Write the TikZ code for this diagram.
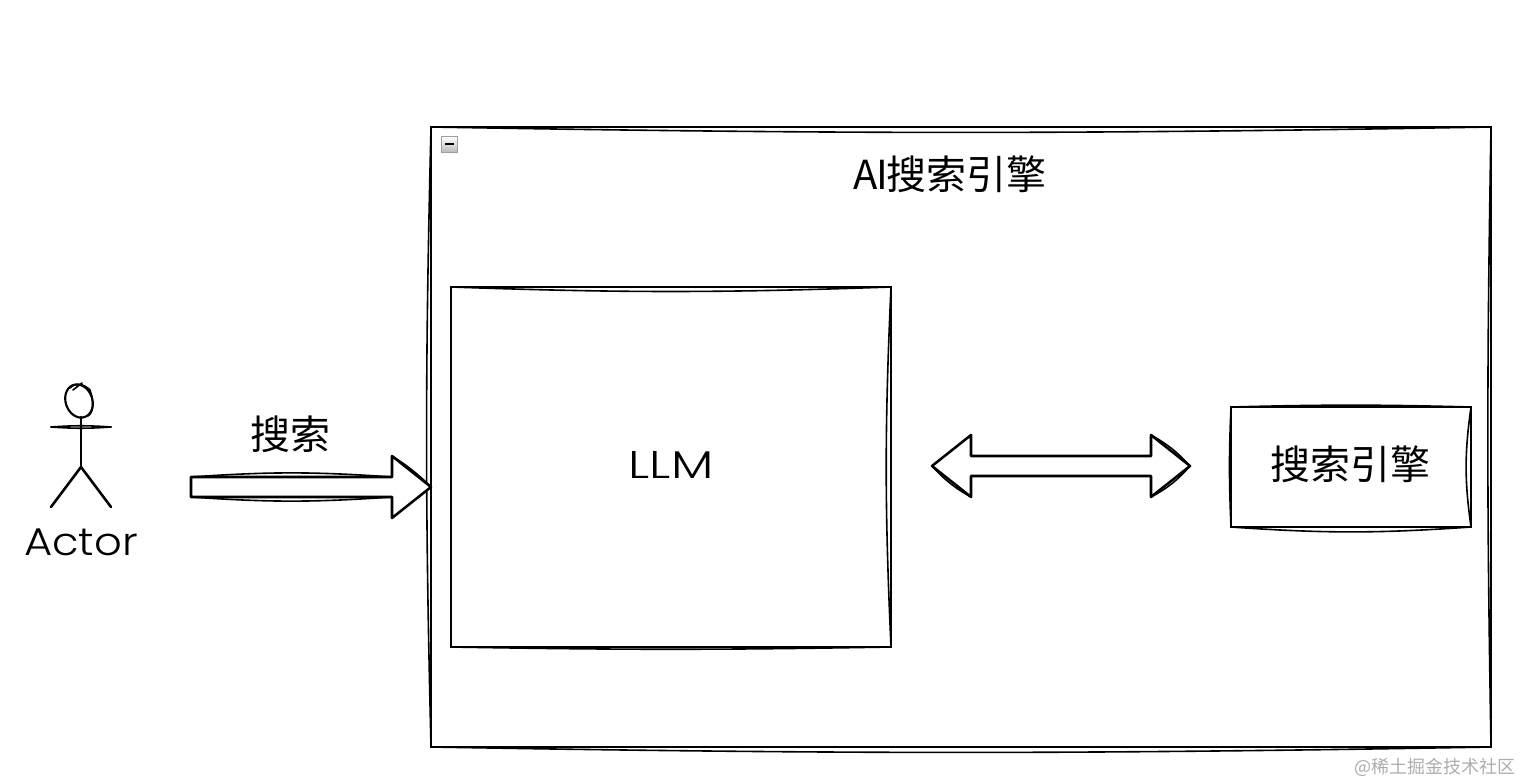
\documentclass[tikz,border=0pt]{standalone}
\usepackage{fontspec}
\newfontfamily\cjk{Noto Sans CJK SC}
\newfontfamily\hand{Poppins Light}
\usetikzlibrary{calc,shapes.geometric}
\definecolor{tgl}{HTML}{9A9AB2}
\tikzset{
  sk/.style={draw=black,line width=1.9pt,line join=round,line cap=round},
  skthin/.style={draw=black,line width=1.2pt,line cap=round},
  boxn/.style={draw=black,line width=1.9pt,fill=white,inner sep=0pt,outer sep=0pt},
  zh/.style={font=\cjk\fontsize{30}{34}\selectfont,inner sep=0pt},
  la/.style={font=\hand\fontsize{29}{34}\selectfont,inner sep=0pt},
  wm/.style={font=\cjk\fontsize{13.5}{16}\selectfont,text=black!32,inner sep=0pt},
  bow/.style={skthin,bend right=#1},
}
\begin{document}
\begin{tikzpicture}[x=0.75pt,y=-0.75pt]
\useasboundingbox (0,0) rectangle (1520,784);
% containers
\node[boxn,minimum width=795pt,minimum height=465pt] (outer) at (961,437) {};
\draw[bow=1.0] (outer.north west) to (outer.north east);
\draw[bow=1.0] (outer.south west) to (outer.south east);
\draw[bow=1.4] (outer.north west) to (outer.south west);
\draw[bow=1.0] (outer.north east) to (outer.south east);
\node[draw=tgl,line width=1.1pt,top color=white,bottom color=black!28,minimum size=12pt,inner sep=0pt] (toggle) at (449.5,144.5) {};
\draw[black,line width=1.5pt] ($(toggle.center)+(-4.5,0)$) -- ($(toggle.center)+(4.5,0)$);
\node[zh] (title) at (950,174) {A\kern-1.5pt I\kern-1.5pt 搜索引擎};
\node[boxn,minimum width=330pt,minimum height=270pt] (llm) at (671,467) {};
\node[la,xscale=1.3] (llmt) at (671,465) {LLM};
\draw[bow=2.0] (llm.north west) to (llm.north east);
\draw[bow=1.0] (llm.south west) to (llm.south east);
\draw[bow=2.6] (llm.north east) to (llm.south east);
\node[boxn,minimum width=180pt,minimum height=90pt] (se) at (1351,467) {};
\node[zh] (set) at (1350,464) {搜索引擎};
\draw[bow=4] (se.south west) to (se.south east);
\draw[bow=1.5] (se.north east) to (se.north west);
\draw[bow=2.5] (se.north west) to (se.south west);
\draw[bow=8] (se.north east) to (se.south east);
% actor
\node[draw=black,line width=1.6pt,ellipse,minimum width=20pt,minimum height=25.5pt,inner sep=0pt,rotate=20] (head) at (79,401) {};
\draw[skthin] (70,388) .. controls (76,382) and (84,384) .. (90,390) .. controls (94,402) and (94,412) .. (88,416);
\draw[skthin] (73,390) -- (82,383);
\coordinate (neck) at (81,417);
\coordinate (hip) at (81,467);
\coordinate (armL) at (51,427);
\coordinate (armR) at (111,427);
\coordinate (legL) at (51,507);
\coordinate (legR) at (111,507);
\draw[sk] (neck) -- (hip);
\draw[skthin] (armL) to[bend right=4] (armR);
\draw[skthin] (armL) to[bend left=4] (armR);
\draw[sk] (legL) -- (hip) -- (legR);
\node[la,xscale=1.12] (actor) at (81,542) {Actor};
% search arrow
\node[zh] (st) at (290,434) {搜索};
\coordinate (a1) at (191,487);
\coordinate (a2) at (outer.west |- a1);
\draw[sk,fill=white] (a1) -- ++(0,-10) -- ($(a2)+(-39,-10)$) -- ($(a2)+(-39,-31)$) -- (a2) -- ($(a2)+(-39,31)$) -- ($(a2)+(-39,10)$) -- ($(a1)+(0,10)$) -- cycle;
\draw[skthin] ($(a1)+(0,-10)$) to[bend left=4] ($(a2)+(-39,-10)$);
\draw[skthin] ($(a1)+(0,10)$) to[bend right=4] ($(a2)+(-39,10)$);
\draw[skthin] ($(a2)+(-39,-31)$) to[bend left=6] (a2);
% double arrow
\coordinate (b1) at (932,466);
\coordinate (b2) at (1190,466);
\draw[sk,fill=white] (b1) -- ($(b1)+(39,-31)$) -- ($(b1)+(39,-10)$) -- ($(b2)+(-39,-10)$) -- ($(b2)+(-39,-31)$) -- (b2) -- ($(b2)+(-39,31)$) -- ($(b2)+(-39,10)$) -- ($(b1)+(39,10)$) -- ($(b1)+(39,31)$) -- cycle;
\draw[skthin] (b1) to[bend right=9] ($(b1)+(39,31)$);
\draw[skthin] (b2) to[bend right=9] ($(b2)+(-39,-31)$);
\draw[skthin] (b2) to[bend left=10] ($(b2)+(-39,31)$);
% watermark
\node[wm] (mark) at (1435,767) {@稀土掘金技术社区};
\end{tikzpicture}
\end{document}
